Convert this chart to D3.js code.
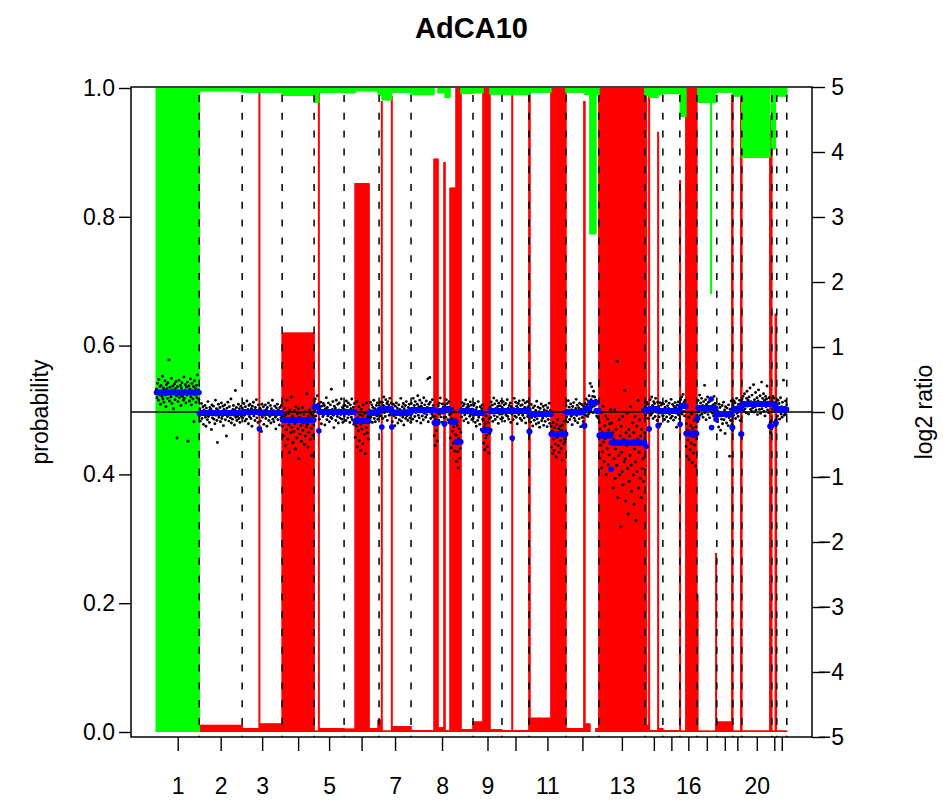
<!DOCTYPE html>
<html><head><meta charset="utf-8">
<script src="https://cdn.jsdelivr.net/npm/d3@7"></script>
<style>body{margin:0;background:#fff}svg{display:block}text{font-family:"Liberation Sans",Arial,Helvetica,sans-serif}</style>
</head><body><svg id="c" width="943" height="801"></svg>
<script>
const title = "AdCA10";
const chromosomes = d3.range(1, 23).map(String);
const cloneCounts = [86,86,80,64,60,70,64,124,58,54,74,66,92,36,34,34,40,32,18,60,10,20];
const tickLabelsShown = ["1","2","3","","5","","7","8","9","","11","","13","","","16","","","","20","",""];
const probTicks = [0, 0.2, 0.4, 0.6, 0.8, 1];
const log2Ticks = [-5,-4,-3,-2,-1,0,1,2,3,4,5];

// segments: chromosome, number of clones, segmented log2 ratio, P(loss), P(gain)
const segChrom = [1, 2, 3,3,3, 4, 5,5,5, 6,6,6,6, 7,7,7,7,7, 8,8,8,8,8,8,8,8, 9,9,9, 10,10,10, 11,11,11, 12,12,12,12,12, 13,13,13, 14,14,14,14,14,14,14, 15, 16,16,16, 17,17,17,17,17,17,17, 18,18, 19,19, 20,20, 21,21,21, 22];
const segLen = [86, 86, 34,1,45, 64, 9,1,50, 22,28,18,2, 5,1,19,1,38, 46,8,12,2,10,12,10,24, 20,14,24, 20,1,33, 2,42,30, 36,2,10,12,6, 24,1,67, 2,1,5,1,17,1,9, 34, 1,11,22, 2,26,1,1,8,1,1, 30,2, 16,2, 56,4, 7,2,1, 20];
const segMean = [0.30, -0.02, 0.0,-0.26,-0.02, -0.12, 0.08,-0.29,0.0, 0.0,-0.14,-0.01,0.02, 0.03,-0.23,0.05,-0.23,-0.01, 0.03,-0.165,0.015,-0.18,0.04,-0.15,-0.46,0.015, -0.02,-0.28,0.015, 0.02,-0.4,0.02, -0.3,-0.035,-0.34, -0.005,-0.21,0.05,0.14,0.02, -0.36,-0.88,-0.47, 0.03,-0.53,0.03,-0.26,0.05,-0.21,0.015, 0.015, -0.19,0.09,-0.33, -0.1,0.06,0.2,-0.24,0.06,-0.11,-0.03, -0.03,-0.24, 0.04,-0.34, 0.12,-0.22, 0.12,-0.17,0.04, 0.04];
const segLoss = [0, 0.011, 0.006,1,0.013, 0.62, 0.002,0.997,0.006, 0.005,0.852,0.006,0.019, 0.019,0.98,0.002,0.988,0.009, 0.003,0.89,0.007,0.885,0.003,0.845,1,0.004, 0.016,1,0.004, 0.003,1,0.003, 1,0.022,1, 0.006,0.98,0.013,0,0.006, 1,1,1, 0.011,1,0.011,1,0.003,0.932,0.006, 0.003, 0.857,0.002,1, 0.214,0.002,0,0,0.002,0.278,0.016, 0.016,0.99, 0.002,0.99, 0.002,0.957, 0.002,0.65,0.002, 0.002];
const segGain = [1, 0.005, 0.007,0,0.007, 0.012, 0.023,0,0.007, 0.008,0.005,0.005,0.01, 0.012,0,0.019,0,0.007, 0.011,0,0.008,0,0.015,0,0,0.009, 0.008,0,0.01, 0.011,0,0.011, 0,0.007,0, 0.007,0,0.011,0.227,0.011, 0,0,0, 0.012,0,0.012,0,0.015,0,0.011, 0.009, 0,0.045,0, 0,0.023,0.32,0,0.023,0,0.007, 0.007,0, 0.013,0, 0.108,0, 0.095,0,0.013, 0.013];

// per-clone log2 ratio residuals around the segmented value (x100)
const res1 = [5,-8,14,2,-12,20,-3,9,-18,11,0,-6,25,-10,7,-15,3,18,-4,-22,12,6,-9,15,-2,50,-13,8,1,-7,22,-17,4,10,-25,-1,13,-11,6,17,-5,-70,9,-14,2,19,-8,-3,11,-20,7,15,-6,0,-12,24,-9,3,12,-16,8,-4,16,-75,-2,10,-13,5,21,-7,-19,14,1,-10,9,-45,18,-3,6,-15,11,-8,27,-1,4,-11];
const res2 = [-4,7,-12,3,15,-8,0,10,-17,5,-2,12,-6,-20,8,2,-10,18,-5,4,-14,9,-1,6,-25,13,-7,1,11,-9,3,-16,20,-3,7,-11,-45,5,14,-6,0,9,-13,2,16,-8,-4,11,-19,6,-2,13,-10,4,-35,8,-5,17,-1,-12,10,3,-7,22,-15,1,-9,6,12,-3,-18,5,35,-6,9,-11,2,-4,14,-8,7,-14,0,11,-5,3];
const res3 = [6,-9,2,13,-5,-14,8,1,-11,17,-3,4,-18,10,-7,12,0,-10,5,-22,9,-2,15,-6,3,-13,7,-1,19,-9,2,-16,11,-4,0,8,-12,5,-28,14,-6,1,10,-17,4,-3,13,-8,6,-20,9,-1,16,-11,3,-5,12,-15,7,-2,20,-9,4,-13,1,11,-6,-24,8,-3,14,-10,5,-1,-18,9,2,-7,12,-4];
const res4 = [-10,12,-25,5,-3,18,-40,8,-15,30,0,-30,10,-8,-50,15,-2,-20,35,-12,6,-35,3,-18,14,-6,-45,20,-1,-28,9,-14,17,-60,4,-22,11,-9,-33,2,19,-16,-5,8,-38,13,-25,1,-11,40,-7,-42,6,-19,15,-3,-30,10,-13,-55,7,-24,12,-8];
const res5 = [8,-5,12,-14,3,0,17,-9,4,0,-11,6,-2,15,-18,9,1,-7,13,-4,10,-20,5,-1,22,-12,7,-6,14,-3,-15,2,11,-8,35,-10,4,16,-5,-24,9,-2,6,-13,18,0,-7,12,-17,3,14,-9,1,-4,20,-11,7,-16,5,10];
const res6 = [-6,10,3,-13,17,-2,8,-9,14,-4,1,-16,11,5,-8,20,-12,2,7,-19,13,-3,-25,15,-8,30,-40,5,-15,22,-30,10,-5,-45,18,-12,8,-35,25,-2,-20,12,-50,3,-10,28,-18,6,-28,9,4,-11,16,-7,2,12,-15,8,-3,19,-9,6,-14,1,11,-5,15,-10,3,-6];
const res7 = [7,-4,12,-9,2,0,10,-15,5,18,-6,3,-12,14,-1,8,-18,11,-3,6,-10,16,2,-7,9,0,-14,4,13,-5,1,-20,10,-8,15,-2,7,-16,3,12,-11,5,-4,22,-13,0,9,-7,14,-19,6,-2,11,-9,17,-5,3,-12,8,-1,13,-8,4,-15];
const res8 = [10,-6,3,-14,18,-2,7,-10,13,-4,0,-17,9,22,-8,5,-12,15,-3,-20,6,11,-9,2,-15,19,-5,8,-1,-11,14,-7,4,48,-18,9,-3,50,12,-13,1,-6,16,-10,7,-2,-20,10,-35,5,-12,18,-28,3,8,-14,12,-5,20,-9,2,-17,11,-3,6,-10,0,0,7,-12,15,-4,9,-16,3,12,-8,1,-25,12,-40,5,-15,20,-33,-8,15,-45,3,-20,10,-30,25,-15,-40,5,20,-25,-10,15,4,-9,13,-2,8,-15,11,-6,1,17,-12,5,-3,10,-18,7,0,-8,14,-5,9,-13,3,-1];
const res9 = [-8,12,-3,15,-14,5,-20,9,0,-11,18,-6,3,-17,10,-2,-25,7,13,-9,15,-20,5,-30,10,-12,22,-8,-25,3,12,-35,18,-5,6,-10,14,-3,9,-16,2,20,-7,11,-13,4,-1,16,-9,7,-19,12,0,-5,8,-12,15,-4];
const res10 = [5,-11,14,-4,9,-16,2,11,-7,0,17,-9,4,-13,8,-2,12,-18,6,-5,0,-45,-14,3,19,-8,-1,13,-10,7,-20,4,11,-6,15,-3,-12,8,2,-15,9,-7,16,-1,-11,5,12,-19,3,-4,14,-9,6,-2];
const res11 = [3,-3,8,-12,15,-5,2,-18,10,-1,-9,13,-4,6,-15,20,-7,1,11,-13,4,-20,9,-2,16,-10,3,-6,12,-17,7,0,-11,14,-3,5,-19,10,-8,2,17,-14,6,-1,12,-20,5,-30,18,-8,-25,10,-15,3,-35,15,-5,22,-18,8,-28,0,12,-10,-22,6,-40,14,-3,-15,20,-8,-12,4];
const res12 = [10,-7,3,-15,18,-2,8,-11,0,13,-6,4,-19,9,-3,15,-9,1,-13,6,20,-5,11,-16,2,7,-10,14,-1,-22,5,12,-8,3,-14,9,2,-2,8,-10,15,-4,6,-12,12,-8,20,-3,30,-14,5,25,-6,10,-15,18,-5,9,-13,4,16,-8,1,-11,12,-3];
const res13 = [20,-35,10,-15,35,-50,5,-25,45,-10,-40,15,-5,30,-60,0,-20,25,-45,8,-30,18,-12,40,0,30,-40,15,-70,5,-25,50,-55,-10,20,-35,125,-85,0,-20,35,-50,10,-130,25,-15,-45,40,-65,5,-30,80,-25,-90,15,-5,45,-40,-110,20,-60,10,-20,55,-35,-75,0,30,-50,15,-95,-10,40,-30,-120,25,-45,5,65,-70,-15,35,-55,10,-85,20,-40,50,-25,-60,0,15];
const res14 = [5,-8,0,12,-4,9,-13,3,0,-6,14,-10,2,18,-7,5,-15,11,-2,8,-12,16,-5,1,-18,10,0,7,-9,13,-3,-20,9,-1,12,-7];
const res15 = [-7,11,2,-13,6,-3,15,-9,0,8,-16,4,12,-5,1,-11,18,-2,-8,10,3,-14,7,-1,13,-10,5,-25,9,-4,14,-6,2,-12];
const res16 = [0,10,-5,14,-12,3,18,-8,6,-15,9,-2,-20,15,-35,5,-10,25,-40,0,-25,12,-15,30,-45,8,-5,-30,20,-18,3,-50,10,-8];
const res17 = [5,-5,12,-6,3,20,-11,8,-2,15,-9,4,-14,10,1,35,-7,13,-18,6,-3,17,-10,9,2,-15,11,-4,0,0,14,-8,5,-12,18,-3,7,-10,0,6];
const res18 = [8,-12,4,-20,15,-3,10,-25,2,-8,13,-15,-1,18,-9,6,-30,11,-4,-14,9,1,-18,14,-6,-65,7,-10,20,-2,5,-5];
const res19 = [6,-9,13,-3,10,-14,2,17,-6,4,-11,8,-2,14,-17,5,3,-3];
const res20 = [8,-5,12,-10,3,16,-7,1,-13,9,20,-3,6,-15,11,-1,25,-8,4,-11,14,-6,2,30,-12,7,-4,18,-9,0,10,-16,5,22,-2,-8,13,-14,3,34,-7,9,-1,16,-11,6,-18,12,-4,8,28,-9,3,-13,10,-2,5,-10,8,-4];
const res21 = [5,-8,12,-4,9,-11,2,4,-4,0];
const res22 = [6,-10,14,-3,9,-15,2,18,-7,4,-12,11,-1,45,-9,3,-5,13,-8,7];
const residuals = [res1,res2,res3,res4,res5,res6,res7,res8,res9,res10,res11,res12,res13,res14,res15,res16,res17,res18,res19,res20,res21,res22];

const svg = d3.select("#c");
const N = d3.sum(cloneCounts);
const box = {l: 131, r: 812, t: 87, b: 737};
const x = d3.scaleLinear().domain([-0.04 * N, 1.04 * N]).range([box.l, box.r]);
const yProb = d3.scaleLinear().domain([0, 1]).range([732, 88]);
const yLog = d3.scaleLinear().domain([-5, 5]).range([box.b, box.t]);

const chromStart = [];
let acc = 0;
cloneCounts.forEach(c => { chromStart.push(acc); acc += c; });
const clones = [];
const localIdx = new Array(cloneCounts.length).fill(0);
segLen.forEach((len, s) => {
  const c = segChrom[s] - 1;
  for (let k = 0; k < len; k++) {
    const j = localIdx[c]++;
    const r = (residuals[c][j] ?? 0) / 100;
    clones.push({
      idx: chromStart[c] + j,
      fit: segMean[s],
      value: len === 1 ? segMean[s] : segMean[s] + r,
      loss: segLoss[s],
      gain: segGain[s]
    });
  }
});
const cx = d => x(d.idx + 0.5);

// probability bars
const gBars = svg.append("g");
gBars.selectAll("line.loss").data(clones.filter(d => d.loss > 0)).join("line")
  .attr("class", "loss")
  .attr("x1", cx).attr("x2", cx)
  .attr("y1", yProb(0)).attr("y2", d => yProb(d.loss))
  .attr("stroke", "#ff0000").attr("stroke-width", 2);
gBars.selectAll("line.gain").data(clones.filter(d => d.gain > 0)).join("line")
  .attr("class", "gain")
  .attr("x1", cx).attr("x2", cx)
  .attr("y1", yProb(1)).attr("y2", d => yProb(1 - d.gain))
  .attr("stroke", "#00ff00").attr("stroke-width", 2);

// chromosome boundaries
svg.append("g").selectAll("line").data(cloneCounts).join("line")
  .attr("x1", (d, i) => x(chromStart[i] + d)).attr("x2", (d, i) => x(chromStart[i] + d))
  .attr("y1", box.t).attr("y2", box.b)
  .attr("stroke", "#000").attr("stroke-width", 1.5)
  .attr("stroke-dasharray", "7,10.8").attr("stroke-dashoffset", 9.8);

// zero line
svg.append("line")
  .attr("x1", box.l).attr("x2", box.r)
  .attr("y1", yLog(0)).attr("y2", yLog(0))
  .attr("stroke", "#000").attr("stroke-width", 1.4);

// log2 ratios
svg.append("g").selectAll("circle").data(clones).join("circle")
  .attr("cx", cx).attr("cy", d => yLog(d.value)).attr("r", 1.45).attr("fill", "#000");
svg.append("g").selectAll("circle").data(clones).join("circle")
  .attr("cx", cx).attr("cy", d => yLog(d.fit)).attr("r", 2.8).attr("fill", "#0000ff");

// box
svg.append("rect").attr("x", box.l).attr("y", box.t)
  .attr("width", box.r - box.l).attr("height", box.b - box.t)
  .attr("fill", "none").attr("stroke", "#000").attr("stroke-width", 1.5);

const fontSize = 23;
function styleAxis(g) {
  g.select(".domain").remove();
  g.selectAll(".tick line").attr("stroke", "#000").attr("stroke-width", 1.4);
  g.selectAll(".tick text").attr("fill", "#000").style("font-size", fontSize + "px")
    .style("font-family", '"Liberation Sans", Arial, sans-serif');
}
// left axis
svg.append("g").attr("transform", `translate(${box.l},0)`)
  .call(d3.axisLeft(yProb).tickValues(probTicks).tickFormat(d3.format(".1f")).tickSize(12).tickPadding(4))
  .call(styleAxis);
// right axis
const gR = svg.append("g").attr("transform", `translate(${box.r},0)`)
  .call(d3.axisRight(yLog).tickValues(log2Ticks).tickFormat(d3.format("d")).tickSize(13).tickPadding(4))
  .call(styleAxis);
gR.selectAll(".tick text").attr("x", 32).attr("text-anchor", "end");
// bottom axis
const centers = cloneCounts.map((c, i) => chromStart[i] + c / 2);
svg.append("g").attr("transform", `translate(0,${box.b})`)
  .call(d3.axisBottom(x).tickValues(centers).tickFormat((d, i) => tickLabelsShown[i]).tickSize(14).tickPadding(27))
  .call(styleAxis);

// titles
svg.append("text").attr("x", (box.l + box.r) / 2).attr("y", 38).attr("text-anchor", "middle")
  .style("font-size", "29px").style("font-weight", "bold").text(title);
svg.append("text").attr("transform", `translate(48,${(box.t + box.b) / 2}) rotate(-90)`)
  .attr("text-anchor", "middle").style("font-size", fontSize + "px").text("probability");
svg.append("text").attr("transform", `translate(932,${(box.t + box.b) / 2}) rotate(-90)`)
  .attr("text-anchor", "middle").style("font-size", fontSize + "px").text("log2 ratio");
</script>
</body></html>
